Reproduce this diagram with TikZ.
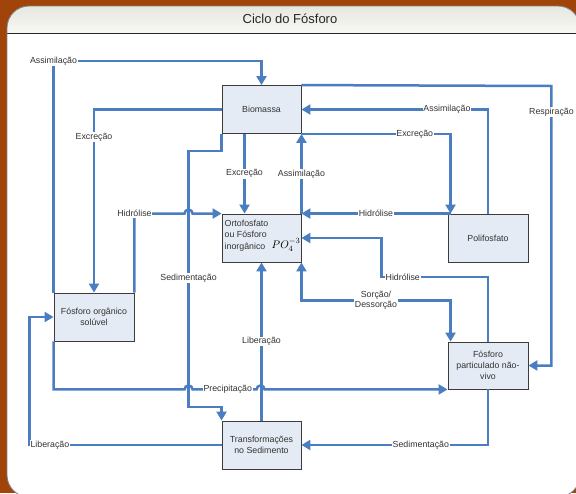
\documentclass[tikz,border=0pt]{standalone}
\usepackage{fontspec}
\setmainfont{Liberation Sans}
\usetikzlibrary{arrows.meta,calc}
\definecolor{bgc}{HTML}{A0440A}
\definecolor{conncol}{HTML}{4A7EC1}
\definecolor{boxfill}{HTML}{E4EBF5}
\definecolor{boxline}{HTML}{3C3C3C}
\definecolor{txt}{HTML}{333333}
\definecolor{headtop}{HTML}{E6E7E0}
\definecolor{headbot}{HTML}{F8F8F4}
\begin{document}
\begin{tikzpicture}[x=1pt,y=-1pt,
  conn/.style={draw=conncol, line width=2.5pt, -{Triangle[length=9pt,width=10pt]}},
  tipboth/.style={{Triangle[length=9pt,width=10pt]}-{Triangle[length=9pt,width=10pt]}},
  box/.style={draw=boxline, line width=0.9pt, fill=boxfill, minimum width=79pt, minimum height=48pt, inner sep=1pt, align=center, font=\fontsize{8.8}{11}\selectfont, text=txt},
  lbl/.style={fill=white, inner sep=0.8pt, font=\fontsize{8.8}{10}\selectfont, text=txt},
  hop/.style={start angle=180, end angle=0, radius=4pt}
]
\useasboundingbox (0,0) rectangle (576,493);
\clip (0,0) rectangle (576,493);
\fill[bgc] (0,0) rectangle (576,493);
% panel
\fill[white, rounded corners=22pt] (7,6) rectangle (580,497);
\begin{scope}
  \clip[rounded corners=22pt] (7,6) rectangle (580,497);
  \shade[top color=headtop, bottom color=headbot] (7,6) rectangle (580,33);
\end{scope}
\draw[black!85, line width=1pt] (7,33) -- (580,33);
\draw[gray, line width=0.8pt, rounded corners=22pt] (7,6) rectangle (580,497);
\node[font=\fontsize{13}{14}\selectfont, text=black!85] (title) at (290,19) {Ciclo do Fósforo};

% boxes
\node[box] (bio) at (261.5,109.5) {Biomassa};
\node[box] (orto) at (261.5,238) {};
\node[box, minimum width=80pt] (poli) at (488,238) {Polifosfato};
\node[box, minimum width=80pt] (fos) at (94,317) {Fósforo orgânico\\solúvel};
\node[box, minimum width=80pt, minimum height=47pt] (part) at (488,365.5) {Fósforo\\particulado não-\\vivo};
\node[box] (sed) at (261.5,445) {Transformações\\no Sedimento};
\node[anchor=north west, align=left, inner sep=0, font=\fontsize{8.8}{11.5}\selectfont, text=txt] (ortotxt) at (224.5,219.5) {Ortofosfato\\ou Fósforo\\inorgânico};
\node[inner sep=0, text=black] (po) at (286,245) {\fontsize{11}{12}\selectfont$PO_4^{-3}$};

% connectors
\draw[conn] (fos.north west) |- ($(bio.north)+(0,-24)$) node[lbl,pos=0.5]{Assimilação} -- (bio.north);
\draw[conn] (bio.west) -| (fos.north) node[lbl,pos=0.575]{Excreção};
\draw[conn] ($(bio.south west)+(23,0)$) -- ($(orto.north west)+(23,0)$) node[lbl,midway]{Excreção};
\draw[conn] (orto.north east) -- (bio.south east) node[lbl,midway]{Assimilação};
\draw[conn] (fos.north east) |- ($(orto.north west)+(-37,0)$) node[lbl,pos=0.5]{Hidrólise} arc[hop] -- (orto.north west);
\draw[conn] (bio.south west) -- ++(0,17) -- ++(-33,0) -- ++(0,256) node[lbl,pos=0.496]{Sedimentação} -| (sed.north west);
\draw[conn] (fos.south west) |- ($(part.south west)+(-263,0)$) arc[hop] -- ($(part.south west)+(-191,0)$) node[lbl,pos=0.55]{Precipitação} arc[hop] -- (part.south west);
\draw[conn] (sed.north) -- (orto.south) node[lbl,midway]{Liberação};
\draw[conn] (sed.west) -- ($(sed.west)+(-192,0)$) node[lbl,pos=1,anchor=west,xshift=-1pt]{Liberação} |- (fos.west);
\draw[conn] (part.south) |- (sed.east) node[lbl,pos=0.68]{Sedimentação};
\draw[conn, tipboth] (orto.south east) |- ($(part.north west)+(3,-41)$) node[lbl,pos=0.75,align=center,font=\fontsize{8.8}{10}\selectfont]{Sorção/\\Dessorção} -- ($(part.north west)+(3,0)$);
\draw[conn] (part.north) |- ($(orto.east)+(80,39)$) node[lbl,pos=0.9]{Hidrólise} |- (orto.east);
\draw[conn] ($(poli.north west)+(3,0)$) -- (orto.north east) node[lbl,midway]{Hidrólise};
\draw[conn] (bio.south east) -| ($(poli.north west)+(3,0)$) node[lbl,pos=0.38]{Excreção};
\draw[conn] (poli.north) |- (bio.east) node[lbl,pos=0.61]{Assimilação};
\draw[conn] (bio.north east) -- ($(part.east)+(23,-279.5)$) |- (part.east) node[lbl,pos=0.047]{Respiração};
\end{tikzpicture}
\end{document}
